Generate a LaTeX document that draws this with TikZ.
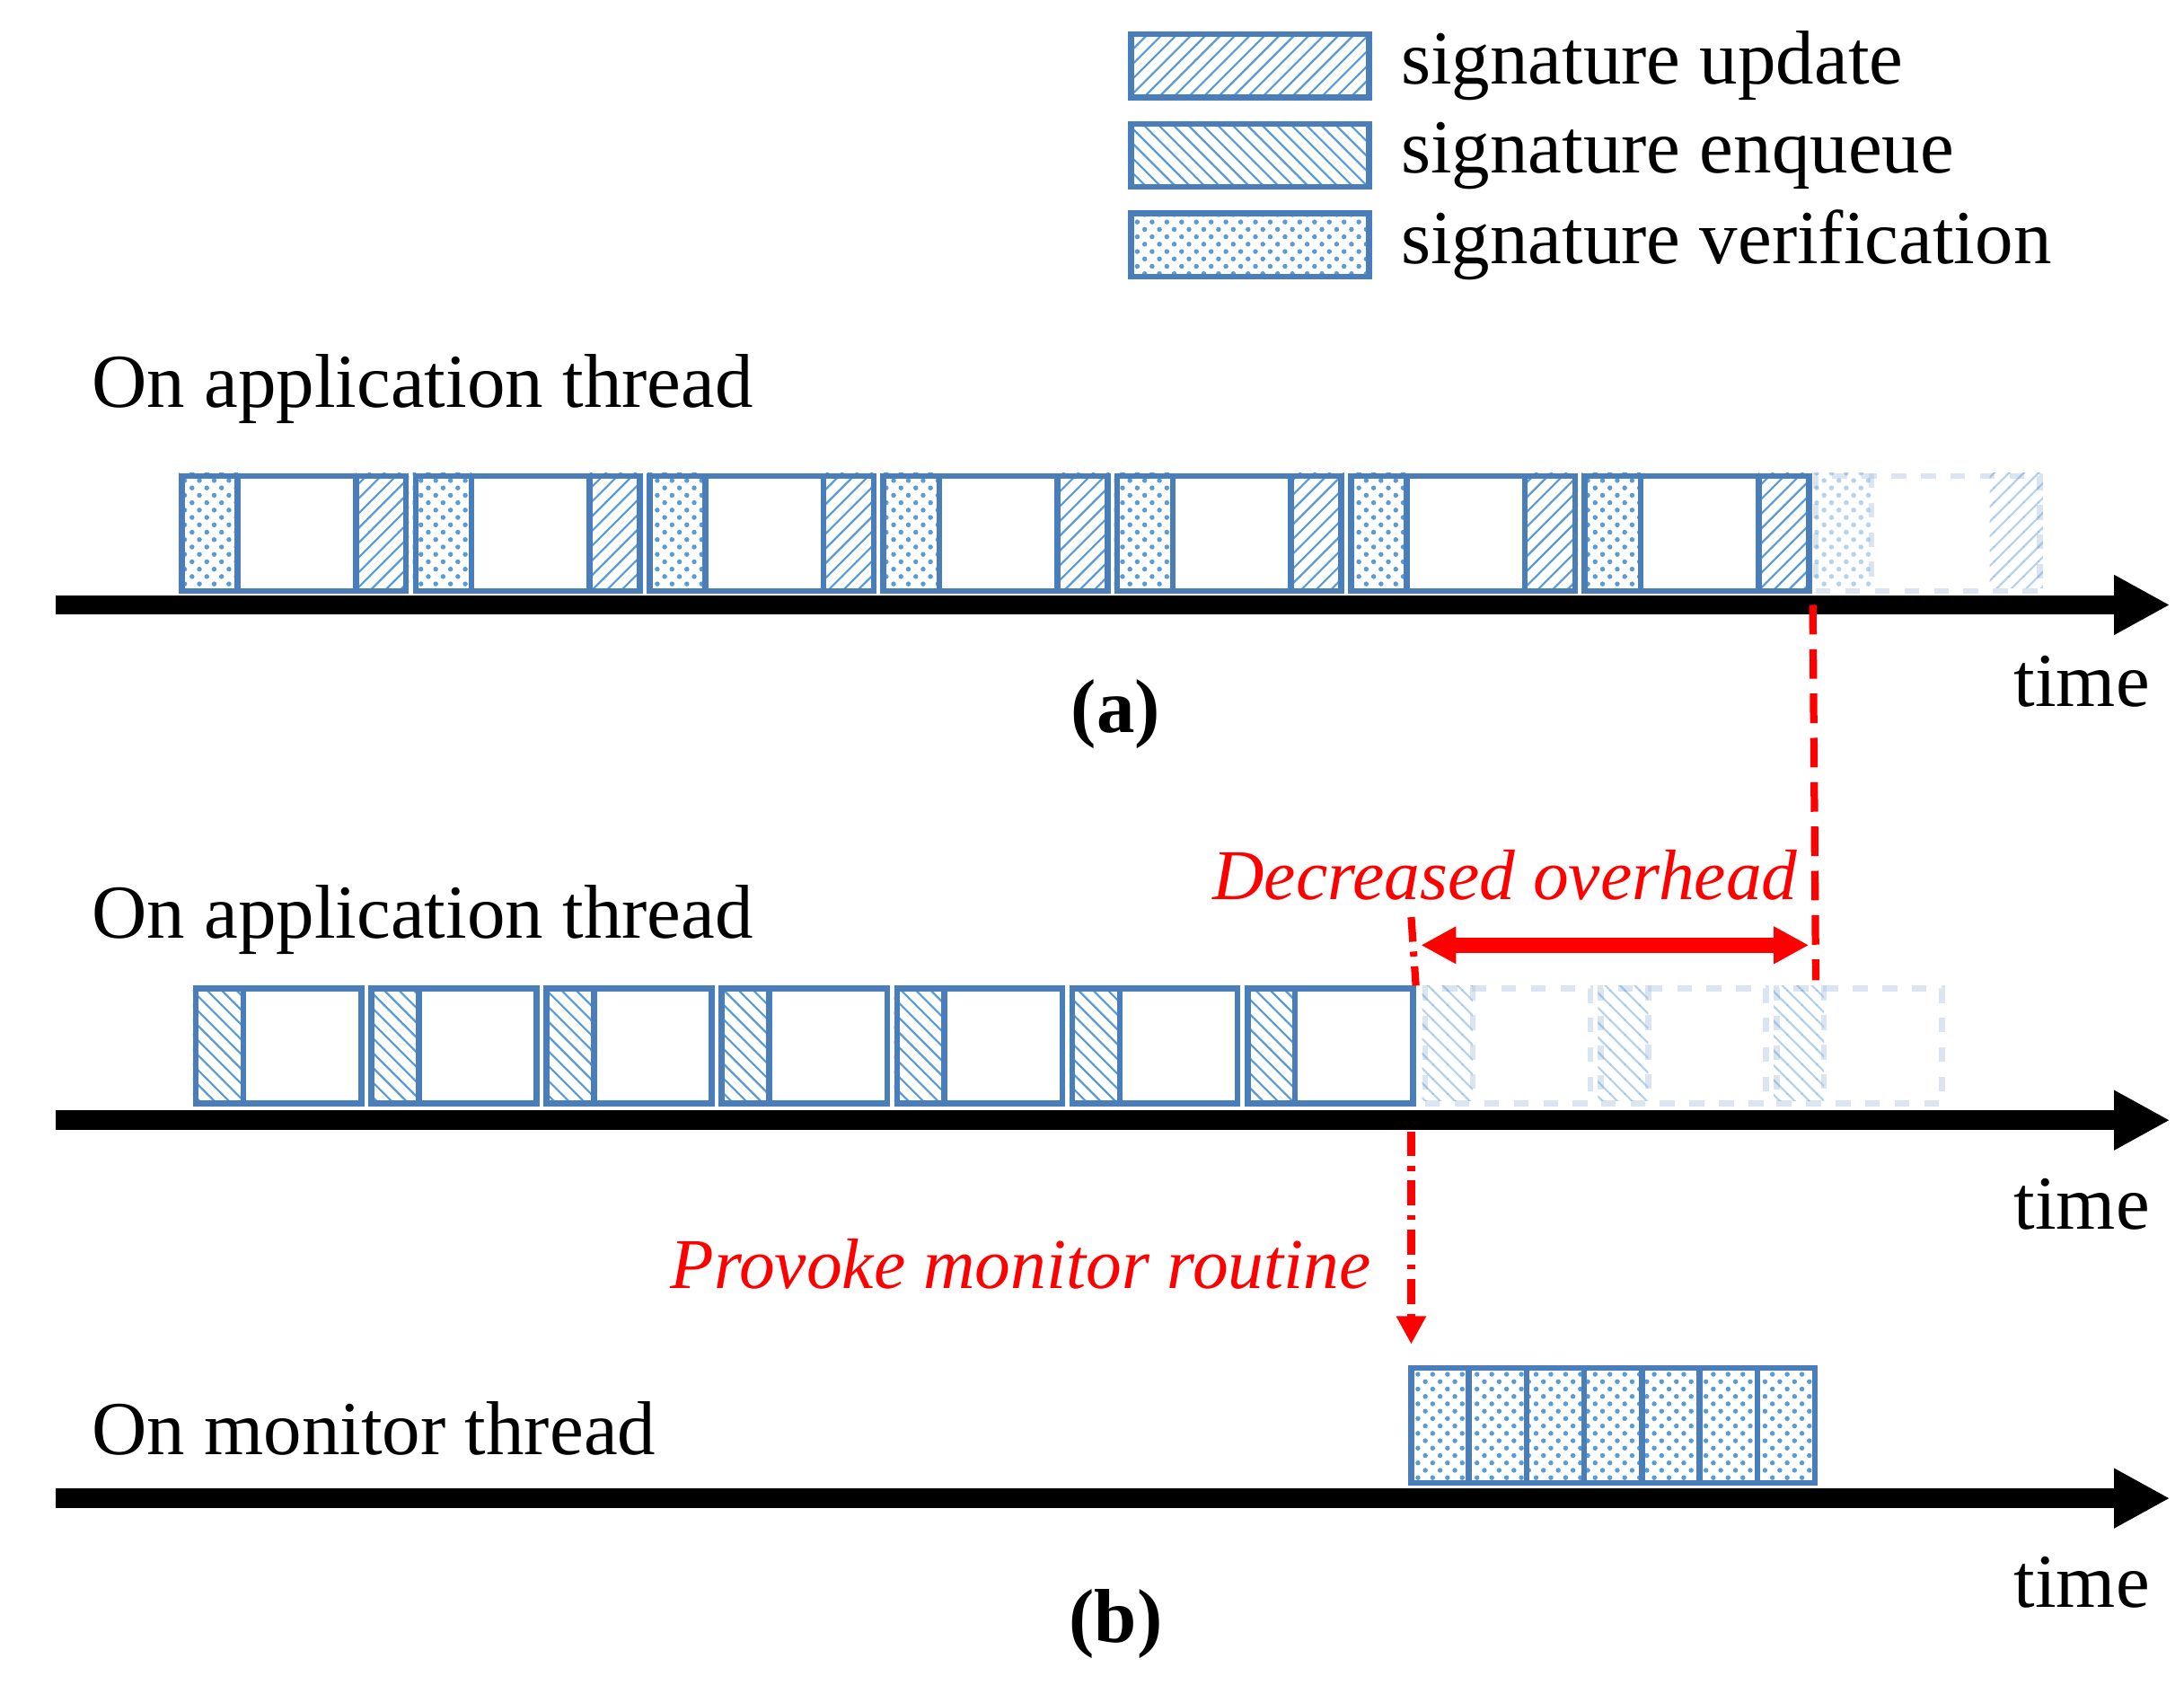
\documentclass[tikz,border=0pt]{standalone}
\usepackage{fontspec}
\setmainfont{Liberation Serif}
\usetikzlibrary{patterns,arrows.meta,positioning}
\definecolor{blk-blue}{HTML}{4A7EBB}
\definecolor{pat-blue}{HTML}{5B9BD5}
\tikzset{
  blk/.style={draw=blk-blue, line width=1.2pt, rectangle, inner sep=0pt, minimum height=0.82cm},
  faded/.style={draw=blk-blue!45, line width=1.2pt, dashed, rectangle, inner sep=0pt, minimum height=0.82cm},
  upd/.style={pattern=north east lines, pattern color=pat-blue},
  enq/.style={pattern=north west lines, pattern color=pat-blue},
  ver/.style={pattern=crosshatch dots, pattern color=pat-blue},
  timeline/.style={line width=4pt, -{Triangle[length=0.4cm, width=0.4cm]}},
  lbl/.style={font=\fontsize{15.5}{18}\selectfont, inner sep=0pt},
  redlbl/.style={lbl, text=red, font=\fontsize{14.5}{17}\selectfont\itshape},
}
\begin{document}
\begin{tikzpicture}[x=0.01cm, y=-0.01cm]
  \useasboundingbox (0,0) rectangle (1560,1203);

  % legend
  \foreach \p/\t [count=\k from 0] in {upd/signature update, enq/signature enqueue, ver/signature verification} {
    \node[blk, minimum width=1.7cm, minimum height=0.45cm, \p] (leg\k) at (893, 47+64*\k) {};
    \node[lbl, anchor=west] (legt\k) at (1000, 47+64*\k) {\t};
  }

  % (a) application thread
  \node[lbl, anchor=west] (a-title) at (65, 278) {On application thread};
  \coordinate (a-start) at (40, 432);
  \coordinate (a-end) at (1550, 432);
  \draw[timeline] (a-start) -- (a-end);
  \foreach \i in {0,...,6} {
    \node[blk, minimum width=1.6cm] (a\i) at (210+167*\i, 381) {};
    \fill[ver] (a\i.north west) rectangle ++(42,82);
    \fill[upd] (a\i.north east) rectangle ++(-38,82);
    \draw[blk-blue, line width=1.2pt] (a\i.north west) ++(42,0) -- ++(0,82);
    \draw[blk-blue, line width=1.2pt] (a\i.north east) ++(-38,0) -- ++(0,82);
    \node[blk, minimum width=1.6cm] at (a\i) {};
  }
  \begin{scope}[opacity=0.45]
    \node[faded, minimum width=1.6cm] (a7) at (1377, 381) {};
    \fill[ver] (a7.north west) rectangle ++(42,82);
    \fill[upd] (a7.north east) rectangle ++(-38,82);
    \draw[blk-blue!45, dashed, line width=1.2pt] (a7.north west) ++(42,0) -- ++(0,82);
  \end{scope}
  \node[lbl] (a-time) at (1487, 487) {time};
  \node[lbl, font=\fontsize{15.5}{18}\selectfont\bfseries] (a-cap) at (797, 510) {(a)};

  % (b) application thread
  \node[lbl, anchor=west] (b-title) at (65, 657) {On application thread};
  \coordinate (b-start) at (40, 800);
  \coordinate (b-end) at (1550, 800);
  \draw[timeline] (b-start) -- (b-end);
  \foreach \i in {0,...,6} {
    \node[blk, minimum width=1.18cm] (b\i) at (199+125.2*\i, 747) {};
    \fill[enq] (b\i.north west) rectangle ++(36,82);
    \draw[blk-blue, line width=1.2pt] (b\i.north west) ++(36,0) -- ++(0,82);
    \node[blk, minimum width=1.18cm] at (b\i) {};
  }
  \begin{scope}[opacity=0.45]
    \foreach \i in {0,1,2} {
      \node[faded, minimum width=1.18cm] (bf\i) at (1077+125.5*\i, 747) {};
      \fill[enq] (bf\i.north west) rectangle ++(36,82);
      \draw[blk-blue!45, dashed, line width=1.2pt] (bf\i.north west) ++(36,0) -- ++(0,82);
    }
  \end{scope}
  \node[lbl] (b-time) at (1487, 860) {time};

  % overhead marks
  \coordinate (dec-top) at (1297, 700);
  \draw[red, line width=1.5pt, dash pattern=on 6pt off 3pt] (a7.south west |- a-end) -- (dec-top);
  \coordinate (mark-top) at (1008, 655);
  \draw[red, line width=1.5pt, dash pattern=on 5pt off 2pt on 1pt off 2pt] (mark-top) -- (b6.north east);
  \draw[red, line width=3pt, {Triangle[length=0.25cm,width=0.25cm]}-{Triangle[length=0.25cm,width=0.25cm]}] (1015,675) -- (1292,675);
  \node[redlbl] (dec) at (1075, 625) {Decreased overhead};

  % monitor thread
  \node[lbl, anchor=west] (m-title) at (65, 1020) {On monitor thread};
  \coordinate (m-start) at (40, 1070);
  \coordinate (m-end) at (1550, 1070);
  \draw[timeline] (m-start) -- (m-end);
  \foreach \i in {0,...,6} {
    \node[blk, minimum width=0.412cm, ver] (m\i) at (1028.6+41.2*\i, 1018) {};
  }
  \draw[red, line width=1.5pt, dash pattern=on 5pt off 2pt on 1pt off 2pt, -{Triangle[length=0.2cm,width=0.2cm]}] (1008, 808) -- (1008, 960);
  \node[redlbl, anchor=east] (prov) at (980, 903) {Provoke monitor routine};
  \node[lbl] (m-time) at (1487, 1130) {time};
  \node[lbl, font=\fontsize{15.5}{18}\selectfont\bfseries] (b-cap) at (797, 1160) {(b)};
\end{tikzpicture}
\end{document}
